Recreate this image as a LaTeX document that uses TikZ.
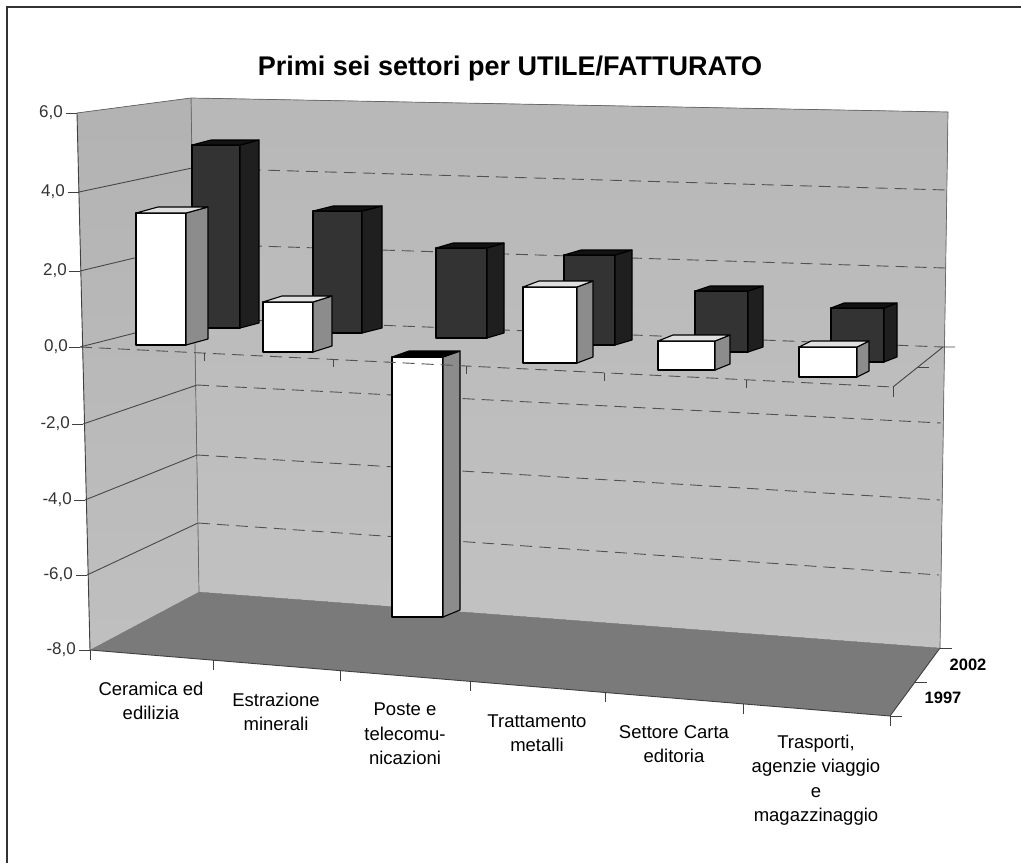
\documentclass[tikz,border=0pt]{standalone}
\usepackage{fontspec}
\setmainfont{Liberation Sans}
\begin{document}
\begin{tikzpicture}[x=1pt, y=-1pt,
    wall/.style={draw=black!60, line width=0.7pt},
    wgrid/.style={black!72, line width=0.9pt},
    bgrid/.style={black!68, line width=0.9pt, dash pattern=on 12pt off 7pt},
    axisline/.style={black!75, line width=0.9pt},
    face/.style={draw=black, line width=1.1pt, line join=round},
    dfront/.style={face, fill=black!80},
    dside/.style={face, fill=black!88},
    dtop/.style={face, fill=black!93},
    wfront/.style={face, fill=white},
    wside/.style={face, fill=black!45},
    wtop/.style={face, fill=black!12},
    cat/.style={align=center, inner sep=0pt, font=\fontsize{18.5}{24.5}\selectfont},
    ylab/.style={anchor=east, inner sep=0pt, text=black!80, font=\fontsize{17}{17}\selectfont}]
    \useasboundingbox (0,0) rectangle (1021,863);
    \draw [black!80, line width=2pt] (7,863) -- (7,7) -- (1021,7);

    \node (title) at (510,69) {\bfseries\fontsize{27}{31}\selectfont Primi sei settori per UTILE/FATTURATO};

    % walls and floor
    \fill [top color=black!28, middle color=black!20, bottom color=black!24] (191,98) -- (948,112) -- (940,648) -- (199,592) -- cycle;
    \fill [top color=black!30, middle color=black!21, bottom color=black!25] (77,113) -- (191,98) -- (199,592) -- (90,650) -- cycle;
    \fill [black!52] (90,650) -- (199,592) -- (940,648) -- (890,716) -- cycle;
    \draw [wall] (77,113) -- (191,98) -- (948,112) -- (940,648);
    \draw [wall] (191,98) -- (199,592);

    % grid on the side wall
    \draw [wgrid] (79,192) -- (192,168);
    \draw [wgrid] (80,271) -- (193,244);
    \draw [wgrid] (80,347) -- (194,318);
    \draw [wgrid] (83,424) -- (197,385);
    \draw [wgrid] (85,500) -- (197,455);
    \draw [wgrid] (87,575) -- (198,523);

    % grid on the back wall
    \draw [bgrid] (192,168) -- (946,190);
    \draw [bgrid] (193,244) -- (945,268);
    \draw [bgrid] (194,318) -- (943,347);
    \draw [bgrid] (197,385) -- (941,423);
    \draw [bgrid] (197,455) -- (940,500);
    \draw [bgrid] (198,523) -- (939,575);

    % 2002
    \draw [dfront] (192,145) rectangle (240,328);
    \draw [dside] (240,328) -- (240+19,328-5) -- (240+19,145-5) -- (240,145) -- cycle;
    \draw [dtop] (192,145) -- (192+19,145-5) -- (240+19,145-5) -- (240,145) -- cycle;

    \draw [dfront] (313,211) rectangle (362,333);
    \draw [dside] (362,333) -- (362+20,333-5) -- (362+20,211-5) -- (362,211) -- cycle;
    \draw [dtop] (313,211) -- (313+20,211-5) -- (362+20,211-5) -- (362,211) -- cycle;

    \draw [dfront] (436,248) rectangle (487,338);
    \draw [dside] (487,338) -- (487+17,338-5) -- (487+17,248-5) -- (487,248) -- cycle;
    \draw [dtop] (436,248) -- (436+17,248-5) -- (487+17,248-5) -- (487,248) -- cycle;

    \draw [dfront] (564,255) rectangle (615,345);
    \draw [dside] (615,345) -- (615+17,345-5) -- (615+17,255-5) -- (615,255) -- cycle;
    \draw [dtop] (564,255) -- (564+17,255-5) -- (615+17,255-5) -- (615,255) -- cycle;

    \draw [dfront] (695,291) rectangle (748,352);
    \draw [dside] (748,352) -- (748+15,352-5) -- (748+15,291-5) -- (748,291) -- cycle;
    \draw [dtop] (695,291) -- (695+15,291-5) -- (748+15,291-5) -- (748,291) -- cycle;

    \draw [dfront] (831,308) rectangle (884,362);
    \draw [dside] (884,362) -- (884+13,362-5) -- (884+13,308-5) -- (884,308) -- cycle;
    \draw [dtop] (831,308) -- (831+13,308-5) -- (884+13,308-5) -- (884,308) -- cycle;

    % 1997
    \draw [wfront] (136,213) rectangle (186,345);
    \draw [wside] (186,345) -- (186+22,345-6) -- (186+22,213-6) -- (186,213) -- cycle;
    \draw [wtop] (136,213) -- (136+22,213-6) -- (186+22,213-6) -- (186,213) -- cycle;

    \draw [wfront] (263,302) rectangle (313,352);
    \draw [wside] (313,352) -- (313+19,352-6) -- (313+19,302-6) -- (313,302) -- cycle;
    \draw [wtop] (263,302) -- (263+19,302-6) -- (313+19,302-6) -- (313,302) -- cycle;

    \draw [wfront] (392,357) rectangle (443,617);
    \draw [wside] (443,617) -- (443+17,617-7) -- (443+17,357-6) -- (443,357) -- cycle;
    \draw [face, fill=black] (392,357) -- (392+17,357-6) -- (443+17,357-6) -- (443,357) -- cycle;

    \draw [wfront] (523,287) rectangle (577,363);
    \draw [wside] (577,363) -- (577+16,363-6) -- (577+16,287-6) -- (577,287) -- cycle;
    \draw [wtop] (523,287) -- (523+16,287-6) -- (577+16,287-6) -- (577,287) -- cycle;

    \draw [wfront] (658,341) rectangle (715,370);
    \draw [wside] (715,370) -- (715+15,370-6) -- (715+15,341-6) -- (715,341) -- cycle;
    \draw [wtop] (658,341) -- (658+15,341-6) -- (715+15,341-6) -- (715,341) -- cycle;

    \draw [wfront] (799,347) rectangle (857,377);
    \draw [wside] (857,377) -- (857+12,377-6) -- (857+12,347-6) -- (857,347) -- cycle;
    \draw [wtop] (799,347) -- (799+12,347-6) -- (857+12,347-6) -- (857,347) -- cycle;

    % zero plane
    \draw [bgrid] (80,347) -- (893,387);
    \draw [wgrid] (893,387) -- (943,347) -- (955,347);
    \draw [wgrid] (918,367) -- (929,367);
    \draw [wgrid] (204,353) -- (204,361);
    \draw [wgrid] (333,359) -- (333,367);
    \draw [wgrid] (466,366) -- (466,374);
    \draw [wgrid] (604,373) -- (604,381);
    \draw [wgrid] (746,380) -- (746,388);
    \draw [wgrid] (893,387) -- (893,397);

    % value axis
    \draw [axisline] (77,113) -- (90,650);
    \draw [axisline] (66,113) -- (77,113);
    \draw [axisline] (68,192) -- (79,192);
    \draw [axisline] (69,271) -- (80,271);
    \draw [axisline] (69,347) -- (80,347);
    \draw [axisline] (72,424) -- (83,424);
    \draw [axisline] (74,500) -- (85,500);
    \draw [axisline] (76,575) -- (87,575);
    \draw [axisline] (79,650) -- (90,650);
    \node [ylab] (v6) at (63,113) {6,0};
    \node [ylab] (v4) at (65,192) {4,0};
    \node [ylab] (v2) at (67,271) {2,0};
    \node [ylab] (v0) at (68,347) {0,0};
    \node [ylab] (vm2) at (70,424) {-2,0};
    \node [ylab] (vm4) at (72,500) {-4,0};
    \node [ylab] (vm6) at (73,575) {-6,0};
    \node [ylab] (vm8) at (76,650) {-8,0};

    % category axis
    \draw [axisline] (90,650) -- (890,716) -- (940,648);
    \draw [axisline] (90,650) -- (90,660);
    \draw [axisline] (213,660) -- (213,670);
    \draw [axisline] (340,671) -- (340,681);
    \draw [axisline] (470,681) -- (470,691);
    \draw [axisline] (605,692) -- (605,702);
    \draw [axisline] (743,704) -- (743,714);
    \draw [axisline] (890,716) -- (890,726);
    \draw [axisline] (940,648) -- (952,648);
    \draw [axisline] (915,682) -- (927,682);
    \draw [axisline] (890,716) -- (902,716);

    \node [cat] (ceramica) at (151,701) {Ceramica ed\\edilizia};
    \node [cat] (estrazione) at (276,712) {Estrazione\\minerali};
    \node [cat] (poste) at (405,734) {Poste e\\telecomu-\\nicazioni};
    \node [cat] (metalli) at (537,733) {Trattamento\\metalli};
    \node [cat] (carta) at (674,744) {Settore Carta\\editoria};
    \node [cat] (trasporti) at (816,780) {Trasporti,\\agenzie viaggio\\e\\magazzinaggio};

    \node [font=\bfseries\fontsize{16.5}{16.5}\selectfont] (y2002) at (968,665) {2002};
    \node [font=\bfseries\fontsize{16.5}{16.5}\selectfont] (y1997) at (943,698) {1997};
\end{tikzpicture}
\end{document}
